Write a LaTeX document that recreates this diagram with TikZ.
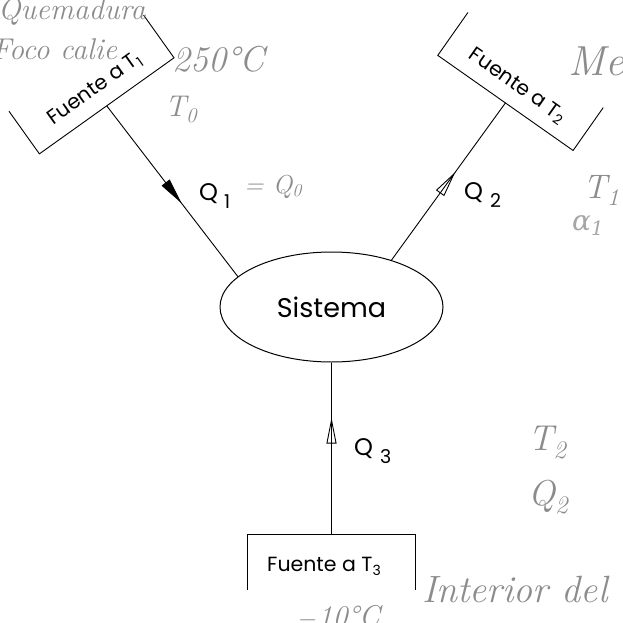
\documentclass[tikz,border=0pt]{standalone}
\usepackage{fontspec}
\newfontfamily\plot{Poppins}
\newfontfamily\greek{DejaVu Serif}
\usetikzlibrary{shapes.geometric,decorations.markings,arrows.meta,calc}
\begin{document}
\begin{tikzpicture}[x=1pt,y=-1pt,
  src/.style={draw=none,minimum width=165pt,minimum height=52pt,inner sep=0pt},
  edge/.style={line width=0.9pt},
  srctext/.style={font=\plot\fontsize{20.5}{20.5}\selectfont,inner sep=0pt},
  qlbl/.style={font=\plot\fontsize{24}{24}\selectfont,inner sep=0pt,anchor=base west},
  hand/.style={text=black!45,font=\itshape\fontsize{30}{30}\selectfont,inner sep=0pt,anchor=base west},
  openmark/.style 2 args={postaction={decorate},decoration={markings,
     mark=at position #1 with {\arrow{Triangle[#2,length=26pt,width=10pt,line width=0.9pt]}}}}]
\useasboundingbox (0,0) rectangle (623,623);

% system
\node[ellipse,draw,line width=1pt,minimum width=223pt,minimum height=110pt,inner sep=0pt,
      font=\plot\fontsize{27}{27}\selectfont] (sys) at (331.5,307) {Sistema};

% sources
\node[src,rotate=35.5] (t1) at (91.5,84.5) {};
\draw[edge] (t1.north west) -- (t1.south west) -- (t1.south east) -- (t1.north east);
\node[srctext,rotate=35.5] (t1txt) at ($(t1.center)!0.22!(t1.south)$) {Fuente a T\raisebox{-4pt}{\fontsize{14}{14}\selectfont 1}};

\node[src,rotate=-35.1] (t2) at (520.5,81.5) {};
\draw[edge] (t2.north west) -- (t2.south west) -- (t2.south east) -- (t2.north east);
\node[srctext,rotate=-35.1] (t2txt) at ($(t2.center)!0.22!(t2.south)$) {Fuente a T\raisebox{-4pt}{\fontsize{14}{14}\selectfont 2}};

\node[src,minimum width=167pt,minimum height=55pt] (t3) at (331.5,562.5) {};
\draw[edge] (t3.south west) -- (t3.north west) -- (t3.north east) -- (t3.south east);
\node[srctext] (t3txt) at (324,566) {Fuente a T\raisebox{-4pt}{\fontsize{14}{14}\selectfont 3}};

% heat flows
\draw[edge,openmark={0.57}{fill=black}] (t1.south) -- (sys.162);
\draw[edge,openmark={0.56}{open}] (sys.38) -- (t2.south);
\draw[edge,openmark={0.68}{open}] (t3.north) -- (sys.south);

\node[qlbl] (q1) at (199,200) {Q\kern6pt\raisebox{-8pt}{\fontsize{19}{19}\selectfont 1}};
\node[qlbl] (q2) at (464,199) {Q\kern7pt\raisebox{-8pt}{\fontsize{19}{19}\selectfont 2}};
\node[qlbl] (q3) at (354,455) {Q\kern7pt\raisebox{-8pt}{\fontsize{19}{19}\selectfont 3}};

% handwritten notes
\node[hand,font=\itshape\fontsize{26}{26}\selectfont] (h1) at (244,193) {= Q\textsubscript{0}};
\node[hand] (h2) at (-2,20) {Quemadura};
\node[hand] (h3) at (-8,60) {Foco calie};
\node[hand,font=\itshape\fontsize{36}{36}\selectfont] (h4) at (172,72) {250\textdegree C};
\node[hand,font=\itshape\fontsize{30}{30}\selectfont] (h5) at (165,117) {T\textsubscript{0}};
\node[hand,font=\itshape\fontsize{42}{42}\selectfont] (h6) at (568,76) {Me};
\node[hand,font=\itshape\fontsize{34}{34}\selectfont] (h7) at (583,198) {T\textsubscript{1}};
\node[hand,text=black!35,font=\greek\itshape\fontsize{28}{28}\selectfont] (h8) at (572,230) {α\textsubscript{1}};
\node[hand,font=\itshape\fontsize{36}{36}\selectfont] (h9) at (528,450) {T\textsubscript{2}};
\node[hand,font=\itshape\fontsize{36}{36}\selectfont] (h10) at (528,505) {Q\textsubscript{2}};
\node[hand,font=\itshape\fontsize{38}{38}\selectfont] (h11) at (422,602) {Interior del};
\node[hand,font=\itshape\fontsize{30}{30}\selectfont] (h12) at (298,626) {$-$10\textdegree C};
\end{tikzpicture}
\end{document}
